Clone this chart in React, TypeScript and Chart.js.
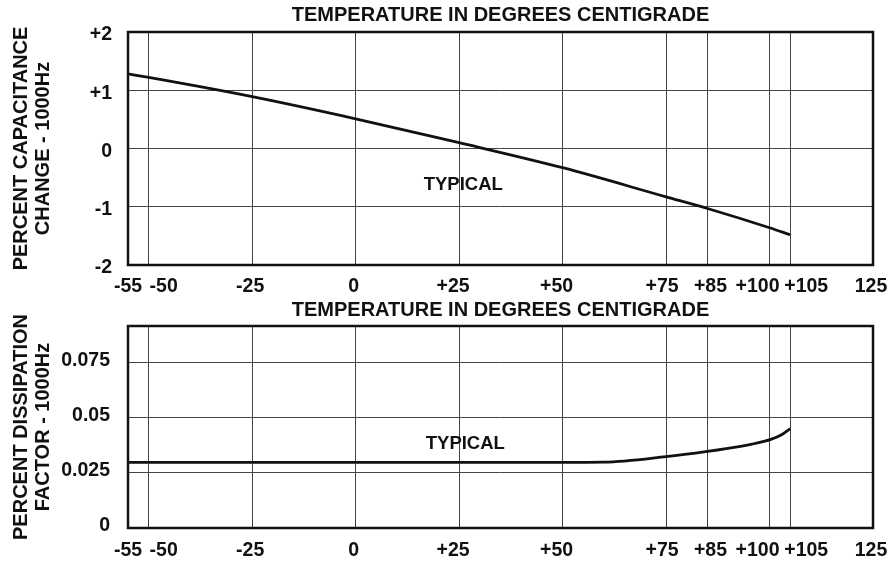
import React, { useEffect, useRef } from 'react';
import { Chart, registerables } from 'chart.js';

Chart.register(...registerables);

// ---------- data ----------
const X_TICKS = [-55, -50, -25, 0, 25, 50, 75, 85, 100, 105, 125];
const X_TICK_LABELS = ['-55', '-50', '-25', '0', '+25', '+50', '+75', '+85', '+100', '+105', '125'];

const CAP_TEMPS = [-55, -50, -25, 0, 25, 50, 75, 85, 100, 105];
const CAP_CHANGE = [1.28, 1.22, 0.89, 0.51, 0.1, -0.33, -0.83, -1.03, -1.36, -1.48];
const CAP_Y_TICKS = [-2, -1, 0, 1, 2];
const CAP_Y_LABELS = ['-2', '-1', '0', '+1', '+2'];

const DF_TEMPS = [-55, -25, 0, 25, 50, 60, 75, 85, 93, 96.5, 100.3, 102.8, 105];
const DF_VALUES = [0.0298, 0.0298, 0.0298, 0.0298, 0.0298, 0.0299, 0.0324, 0.0348, 0.0371, 0.0384, 0.0403, 0.0423, 0.0452];
const DF_Y_TICKS = [0, 0.025, 0.05, 0.075];
const DF_Y_LABELS = ['0', '0.025', '0.05', '0.075'];

const X_TITLE = 'TEMPERATURE IN DEGREES CENTIGRADE';
const CAP_Y_TITLE = ['PERCENT CAPACITANCE', 'CHANGE - 1000Hz'];
const DF_Y_TITLE = ['PERCENT DISSIPATION', 'FACTOR - 1000Hz'];
const NOTE_TEXT = 'TYPICAL';
const CAP_NOTE_AT = { x: 26, y: -0.63 };
const DF_NOTE_AT = { x: 26.5, y: 0.0382 };

// ---------- style / layout ----------
const FONT = '"Liberation Sans", Arial, Helvetica, sans-serif';
const INK = '#111';
const GRID = '#444';
// horizontal nudges of the crowded x tick labels (px), as in the original print
const X_LABEL_SHIFT = [0, 15, -2, -2, -6, -6, -4, 3, -12, 16, -2];

Chart.defaults.font.family = FONT;
Chart.defaults.color = INK;

const boxPlugin = {
  id: 'box',
  afterDraw(chart: any) {
    const { ctx, chartArea: a } = chart;
    ctx.save();
    ctx.lineWidth = 2.5;
    ctx.strokeStyle = INK;
    ctx.strokeRect(a.left, a.top, a.right - a.left, a.bottom - a.top);
    ctx.restore();
  },
};

const nudgePlugin = {
  id: 'nudge',
  beforeDraw(chart: any) {
    const s = chart.scales.x;
    if (!s || !s.getLabelItems) return;
    const items = s.getLabelItems();
    if (!items || items._nudged) return;
    items.forEach((it: any, i: number) => {
      if (it && it.options && it.options.translation) {
        it.options.translation[0] += X_LABEL_SHIFT[i] || 0;
      }
    });
    items._nudged = true;
  },
};

function notePlugin(at: { x: number; y: number }) {
  return {
    id: 'note',
    afterDatasetsDraw(chart: any) {
      const { ctx, scales } = chart;
      ctx.save();
      ctx.font = `bold 18.5px ${FONT}`;
      ctx.fillStyle = INK;
      ctx.textAlign = 'center';
      ctx.textBaseline = 'middle';
      ctx.fillText(NOTE_TEXT, scales.x.getPixelForValue(at.x), scales.y.getPixelForValue(at.y));
      ctx.restore();
    },
  };
}

type Panel = {
  xs: number[];
  ys: number[];
  yMin: number;
  yMax: number;
  yTicks: number[];
  yLabels: string[];
  yTitle: string[];
  note: { x: number; y: number };
  titleHeight: number;
  titlePad: number;
  xAxisHeight: number;
  xTickPad: number;
  yTickPad: number;
  yLabelOffset: number;
};

const TOP: Panel = {
  xs: CAP_TEMPS,
  ys: CAP_CHANGE,
  yMin: -2,
  yMax: 2,
  yTicks: CAP_Y_TICKS,
  yLabels: CAP_Y_LABELS,
  yTitle: CAP_Y_TITLE,
  note: CAP_NOTE_AT,
  titleHeight: 32,
  titlePad: 3.5,
  xAxisHeight: 32,
  xTickPad: 9.5,
  yTickPad: 16,
  yLabelOffset: 3,
};

const BOTTOM: Panel = {
  xs: DF_TEMPS,
  ys: DF_VALUES,
  yMin: 0,
  yMax: 0.0918,
  yTicks: DF_Y_TICKS,
  yLabels: DF_Y_LABELS,
  yTitle: DF_Y_TITLE,
  note: DF_NOTE_AT,
  titleHeight: 29,
  titlePad: 1,
  xAxisHeight: 37,
  xTickPad: 11.3,
  yTickPad: 18,
  yLabelOffset: -2,
};

function buildConfig(p: Panel): any {
  return {
    type: 'line',
    data: {
      datasets: [
        {
          data: p.xs.map((x, i) => ({ x, y: p.ys[i] })),
          xAxisID: 'x',
          yAxisID: 'y',
          borderColor: INK,
          borderWidth: 2.8,
          pointRadius: 0,
          cubicInterpolationMode: 'monotone',
          fill: false,
        },
      ],
    },
    options: {
      responsive: false,
      animation: false,
      events: [],
      layout: { padding: { left: 0, right: 15, top: 0, bottom: 0 } },
      plugins: { legend: { display: false }, tooltip: { enabled: false }, title: { display: false } },
      scales: {
        x: {
          type: 'linear',
          position: 'bottom',
          min: -55,
          max: 125,
          afterBuildTicks: (s: any) => {
            s.ticks = X_TICKS.map((v) => ({ value: v }));
          },
          afterFit: (s: any) => {
            s.height = p.xAxisHeight;
            s.paddingLeft = 0;
            s.paddingRight = 0;
          },
          grid: { color: GRID, lineWidth: 1, drawTicks: false },
          border: { display: false },
          ticks: {
            autoSkip: false,
            maxRotation: 0,
            minRotation: 0,
            padding: p.xTickPad,
            color: INK,
            font: { size: 19.5, weight: 'bold' },
            callback: (_v: any, i: number) => X_TICK_LABELS[i],
          },
        },
        x2: {
          type: 'linear',
          axis: 'x',
          position: 'top',
          min: -55,
          max: 125,
          grid: { display: false, drawTicks: false },
          border: { display: false },
          ticks: { display: false },
          afterFit: (s: any) => {
            s.height = p.titleHeight;
            s.paddingLeft = 0;
            s.paddingRight = 0;
          },
          title: {
            display: true,
            text: X_TITLE,
            color: INK,
            font: { size: 20, weight: 'bold', lineHeight: 1.2 },
            padding: { top: p.titlePad, bottom: 0 },
          },
        },
        y: {
          type: 'linear',
          position: 'left',
          min: p.yMin,
          max: p.yMax,
          afterBuildTicks: (s: any) => {
            s.ticks = p.yTicks.map((v) => ({ value: v }));
          },
          afterFit: (s: any) => {
            s.width = 128;
            s.paddingTop = 0;
            s.paddingBottom = 0;
          },
          grid: { color: GRID, lineWidth: 1, drawTicks: false },
          border: { display: false },
          ticks: {
            padding: p.yTickPad,
            labelOffset: p.yLabelOffset,
            color: INK,
            font: { size: 19.5, weight: 'bold' },
            callback: (_v: any, i: number) => p.yLabels[i],
          },
          title: {
            display: true,
            text: p.yTitle,
            color: INK,
            font: { size: 20, weight: 'bold', lineHeight: 1.12 },
            padding: { top: 10, bottom: 0 },
          },
        },
      },
    },
    plugins: [nudgePlugin, notePlugin(p.note), boxPlugin],
  };
}

export default function App() {
  const topRef = useRef<HTMLCanvasElement>(null);
  const botRef = useRef<HTMLCanvasElement>(null);

  useEffect(() => {
    const c1 = new Chart(topRef.current as HTMLCanvasElement, buildConfig(TOP));
    const c2 = new Chart(botRef.current as HTMLCanvasElement, buildConfig(BOTTOM));
    return () => {
      c1.destroy();
      c2.destroy();
    };
  }, []);

  return (
    <div style={{ position: 'absolute', left: 0, top: 0, width: 888, height: 565, background: '#fff' }}>
      <canvas ref={topRef} width={888} height={297} style={{ display: 'block', width: 888, height: 297 }} />
      <canvas ref={botRef} width={888} height={268} style={{ display: 'block', width: 888, height: 268 }} />
    </div>
  );
}
